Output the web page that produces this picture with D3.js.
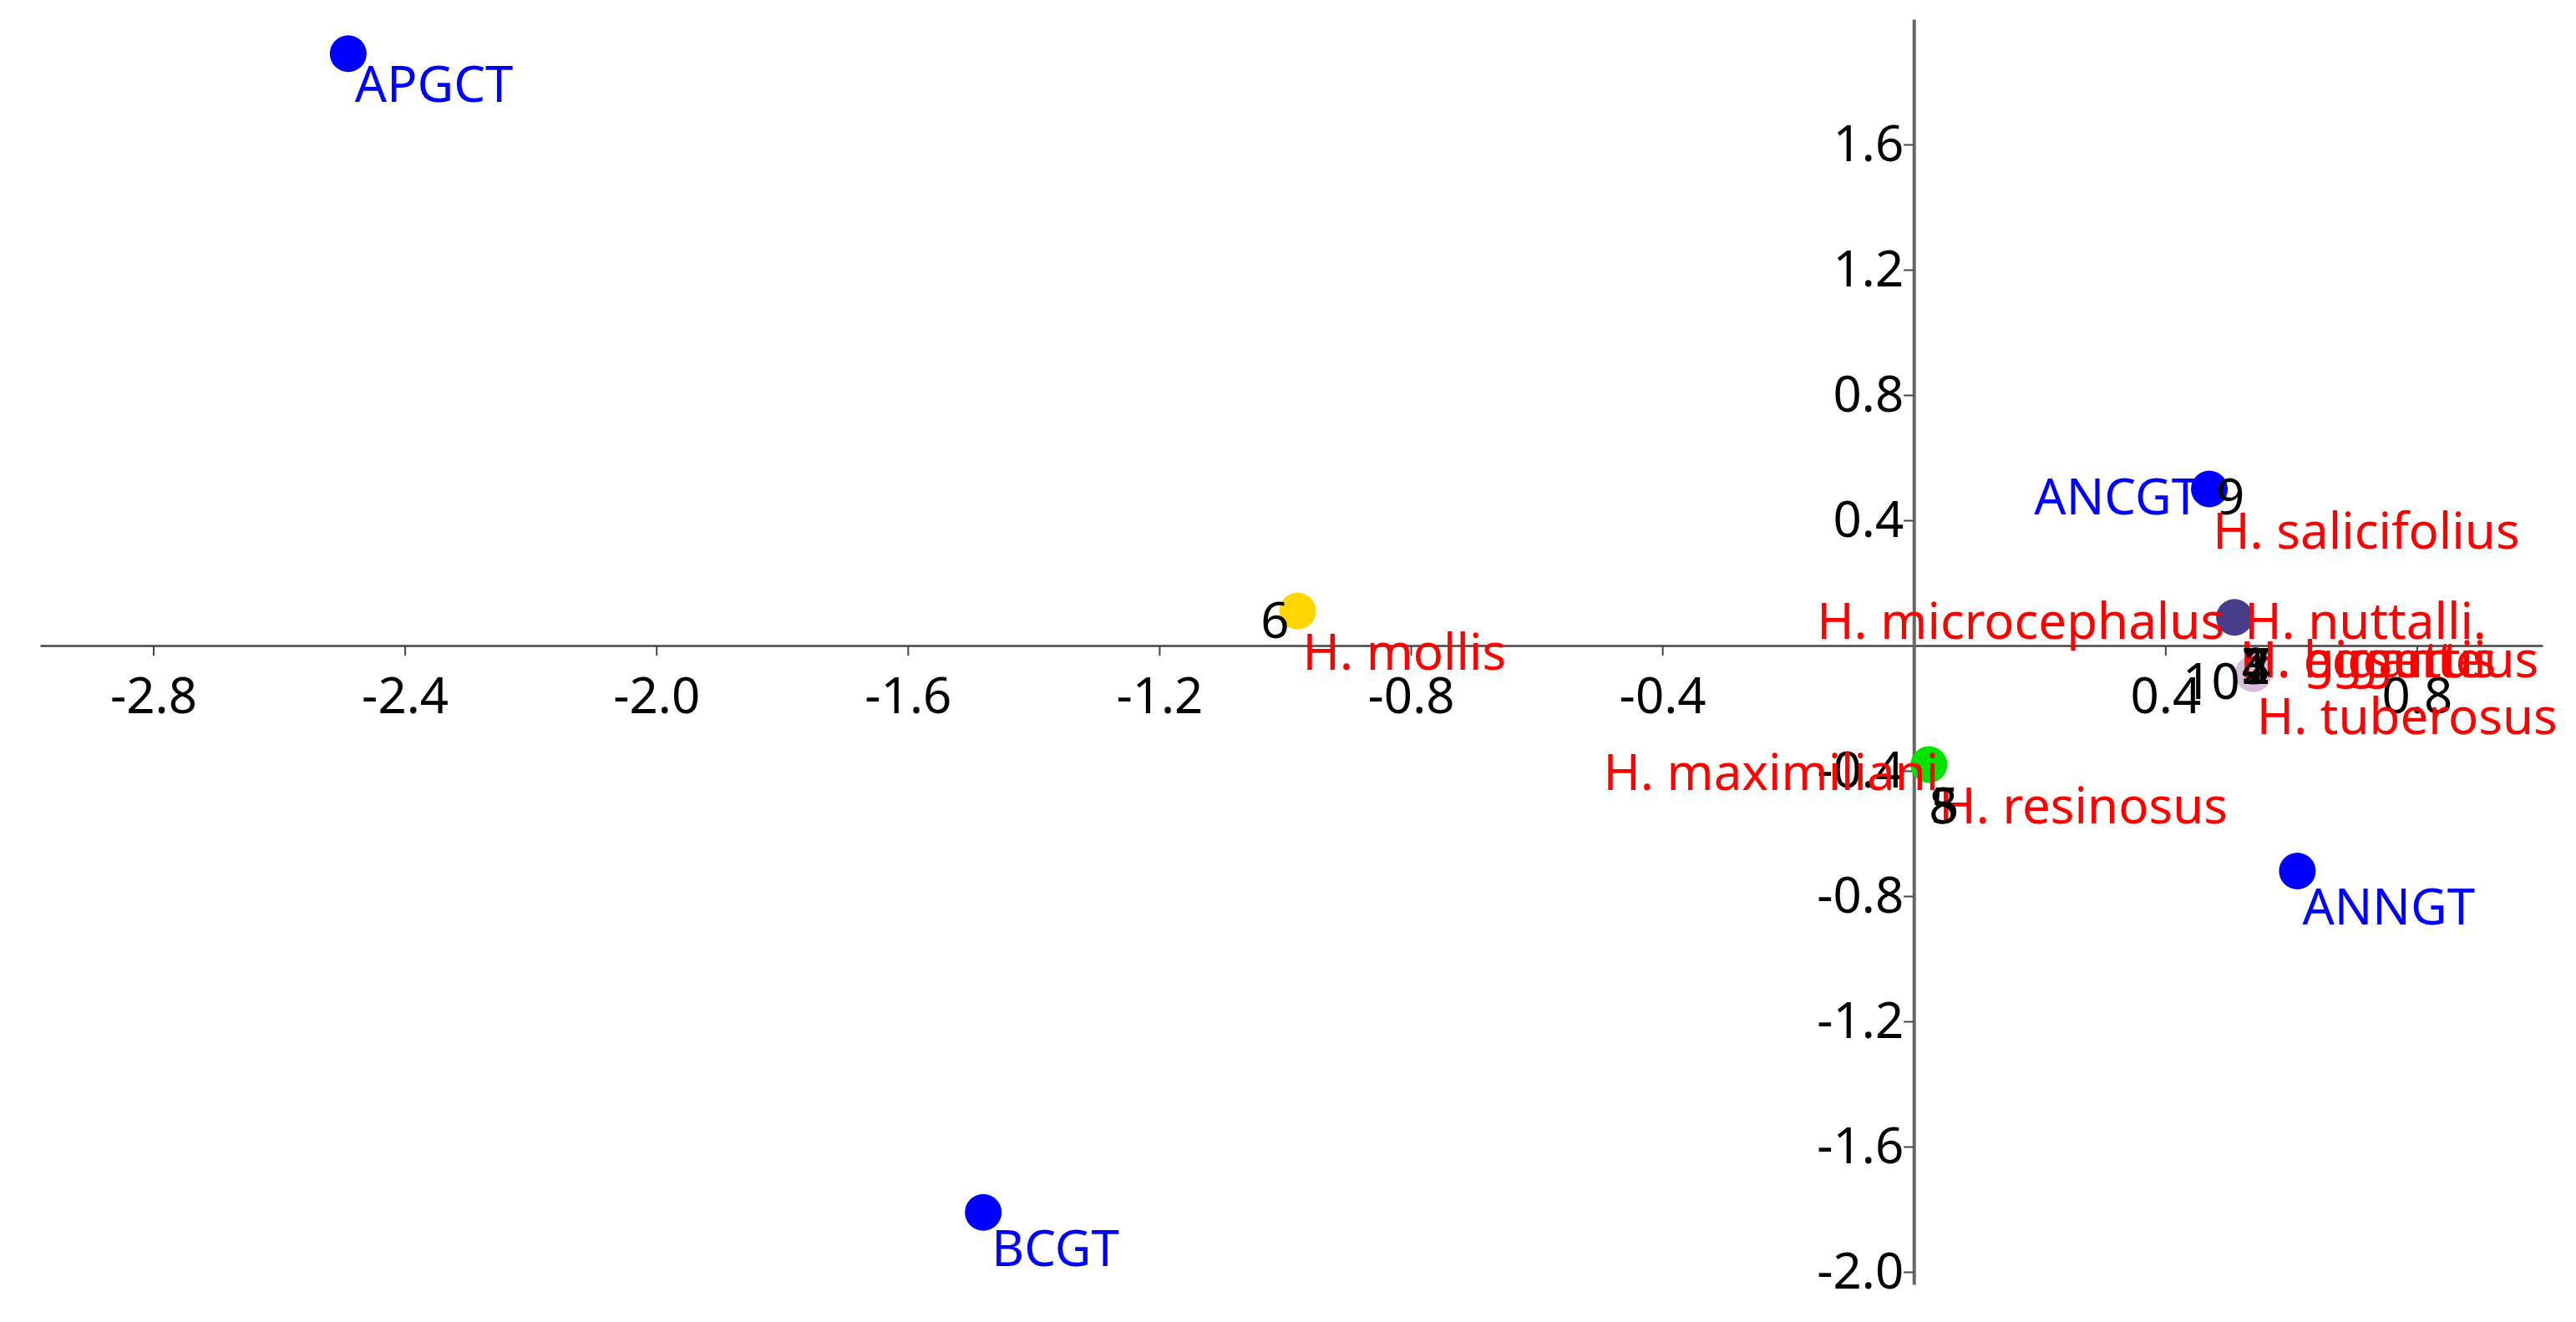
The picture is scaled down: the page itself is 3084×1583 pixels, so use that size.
<!DOCTYPE html>
<html><head><meta charset="utf-8">
<script src="https://cdn.jsdelivr.net/npm/d3@7"></script>
<style>body{margin:0;background:#fff}text{font-family:"Noto Sans",sans-serif}</style>
</head><body><svg id="c" width="3084" height="1583"></svg>
<script>
const pointNames = ["APGCT","BCGT","ANNGT","ANCGT","6","max","nut","tub"];
const pointX = [-2.49,-1.48,0.61,0.47,-0.98,0.024,0.51,0.54];
const pointY = [1.89,-1.81,-0.72,0.50,0.11,-0.38,0.09,-0.09];
const pointColors = ["#0000ff","#0000ff","#0000ff","#0000ff","#ffd700","#00e400","#483d8b","#d8bfd8"];
const labelText = ["APGCT","BCGT","ANNGT","ANCGT","9","6","H. mollis","H. salicifolius","H. microcephalus","H. nuttalli.","H. giganteus","H. eggertii","H. hirsutus","1","2","3","4","7","H. tuberosus","10","H. maximiliani","H. resinosus","8","5"];
const labelPoint = [0,1,2,3,3,4,4,6,6,6,7,7,7,7,7,7,7,7,7,7,5,5,5,5];
const labelDx = [8,10,6,-12,8,-10,6,-26,-12,12,-16,-16,-16,-14,-14,-14,-14,-14,4,-16,12,12,0,2];
const labelDy = [58,64,64,30,30,32,70,-82,26,26,4,4,4,12,12,12,12,12,72,30,30,70,70,70];
const labelAnchor = ["start","start","start","end","start","end","start","start","end","start","start","start","start","start","start","start","start","start","start","end","end","start","start","start"];
const labelColor = ["#0000ff","#0000ff","#0000ff","#0000ff","#000","#000","#ff0000","#ff0000","#ff0000","#ff0000","#ff0000","#ff0000","#ff0000","#000","#000","#000","#000","#000","#ff0000","#000","#ff0000","#ff0000","#000","#000"];
const xTicks = [-2.8,-2.4,-2.0,-1.6,-1.2,-0.8,-0.4,0.4,0.8];
const yTicks = [1.6,1.2,0.8,0.4,-0.4,-0.8,-1.2,-1.6,-2.0];

const svg = d3.select("#c");
const x = d3.scaleLinear().domain([-2.98,1.0]).range([48,3044]);
const y = d3.scaleLinear().domain([2.0,-2.04]).range([23,1538]);
const fs = 60;
const fmt = d => d.toFixed(1);

const xa = svg.append("g").attr("transform",`translate(0,${y(0)})`)
  .call(d3.axisBottom(x).tickValues(xTicks).tickSize(12).tickSizeOuter(0).tickFormat(fmt));
xa.select(".domain").attr("stroke","#444").attr("stroke-width",2.5);
xa.selectAll(".tick line").attr("stroke","#444").attr("stroke-width",2);
xa.selectAll(".tick text").attr("font-size",fs).attr("fill","#000").attr("dy","1.1em");

const ya = svg.append("g").attr("transform",`translate(${x(0)},0)`)
  .call(d3.axisLeft(y).tickValues(yTicks).tickSize(12).tickSizeOuter(0).tickFormat(fmt));
ya.select(".domain").attr("stroke","#666").attr("stroke-width",4);
ya.selectAll(".tick line").attr("stroke","#444").attr("stroke-width",2);
ya.selectAll(".tick text").attr("font-size",fs).attr("fill","#000").attr("x",-12);

svg.selectAll("circle.p").data(pointX).join("circle").attr("class","p")
  .attr("cx",(d)=>x(d)).attr("cy",(d,i)=>y(pointY[i])).attr("r",22)
  .attr("fill",(d,i)=>pointColors[i]);

svg.selectAll("text.l").data(labelText).join("text").attr("class","l")
  .attr("x",(d,i)=>x(pointX[labelPoint[i]])+labelDx[i])
  .attr("y",(d,i)=>y(pointY[labelPoint[i]])+labelDy[i])
  .attr("text-anchor",(d,i)=>labelAnchor[i])
  .attr("fill",(d,i)=>labelColor[i]).attr("font-size",fs).text(d=>d);
</script></body></html>
